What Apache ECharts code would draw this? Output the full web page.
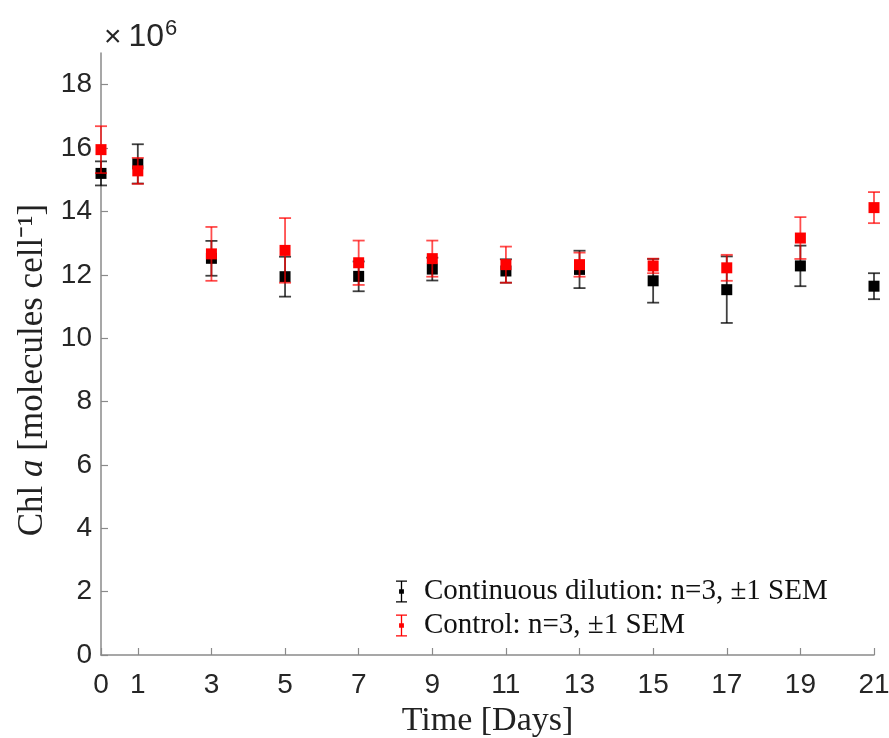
<!DOCTYPE html>
<html>
<head>
<meta charset="utf-8">
<script src="https://cdn.jsdelivr.net/npm/echarts@6/dist/echarts.min.js"></script>
<style>
  html, body { margin: 0; padding: 0; background: #fff; }
  #chart { width: 889px; height: 738px; }
</style>
</head>
<body>
<div id="chart"></div>
<script>
// sampling days
const days = [0, 1, 3, 5, 7, 9, 11, 13, 15, 17, 19, 21];
// Chl a per cell, x10^6
const dilutionMean = [15.2, 15.5, 12.52, 11.94, 11.95, 12.18, 12.12, 12.17, 11.81, 11.53, 12.28, 11.64];
const dilutionSem  = [0.38, 0.62, 0.55, 0.63, 0.47, 0.36, 0.37, 0.59, 0.69, 1.05, 0.64, 0.41];
const controlMean  = [15.95, 15.28, 12.66, 12.77, 12.38, 12.51, 12.32, 12.32, 12.28, 12.22, 13.16, 14.12];
const controlSem   = [0.74, 0.41, 0.85, 1.02, 0.7, 0.57, 0.57, 0.38, 0.23, 0.41, 0.66, 0.49];

const xTicks = [0, 1, 3, 5, 7, 9, 11, 13, 15, 17, 19, 21];
const yTicks = [0, 2, 4, 6, 8, 10, 12, 14, 16, 18];

const dilutionName = 'Continuous dilution: n=3, \u00b11 SEM';
const controlName = 'Control: n=3, \u00b11 SEM';

function points(mean) {
    return days.map((d, i) => [d, mean[i]]);
}
function bars(mean, sem) {
    return days.map((d, i) => [d, mean[i] - sem[i], mean[i] + sem[i]]);
}

function errorBar(color) {
    return function (params, api) {
        const lo = api.coord([api.value(0), api.value(1)]);
        const hi = api.coord([api.value(0), api.value(2)]);
        const w = 6;
        const style = { stroke: color, lineWidth: 1.8 };
        return {
            type: 'group',
            children: [
                { type: 'line', shape: { x1: lo[0], y1: lo[1], x2: hi[0], y2: hi[1] }, style: style },
                { type: 'line', shape: { x1: lo[0] - w, y1: lo[1], x2: lo[0] + w, y2: lo[1] }, style: style },
                { type: 'line', shape: { x1: hi[0] - w, y1: hi[1], x2: hi[0] + w, y2: hi[1] }, style: style }
            ]
        };
    };
}

const axisGray = '#8a8a8a';
const legendIcon = 'path://M0,0h10v1.2H0z M4.4,1h1.2v18h-1.2z M0,18.8h10v1.2H0z M2.8,8h4.4v4H2.8z';

const chart = echarts.init(document.getElementById('chart'));
chart.setOption({
    animation: false,
    backgroundColor: '#fff',
    grid: { left: 101, right: 15, top: 53, bottom: 83, containLabel: false, outerBoundsMode: 'none' },
    xAxis: {
        type: 'value',
        min: 0,
        max: 21,
        name: 'Time [Days]',
        nameLocation: 'middle',
        nameGap: 44,
        nameTextStyle: { fontFamily: 'Liberation Serif', fontSize: 34, color: '#222' },
        axisLine: { show: true, lineStyle: { color: axisGray, width: 1.5 } },
        axisTick: { show: true, inside: true, length: 7, customValues: xTicks, lineStyle: { color: axisGray, width: 1.2 } },
        axisLabel: { customValues: xTicks, margin: 16, fontFamily: 'Liberation Sans', fontSize: 28, color: '#262626' },
        splitLine: { show: false }
    },
    yAxis: {
        type: 'value',
        min: 0,
        max: 19,
        name: '{r|Chl }{i|a}{r| [molecules cell\u207b\u00b9]}',
        nameLocation: 'middle',
        nameRotate: 90,
        nameGap: 51,
        nameTextStyle: {
            color: '#222',
            padding: [0, 32, 0, 0],
            rich: {
                r: { fontFamily: 'Liberation Serif', fontSize: 35, color: '#222' },
                i: { fontFamily: 'Liberation Serif', fontStyle: 'italic', fontSize: 35, color: '#222' }
            }
        },
        axisLine: { show: true, lineStyle: { color: axisGray, width: 1.5 } },
        axisTick: { show: true, inside: true, length: 7, customValues: yTicks, lineStyle: { color: axisGray, width: 1.2 } },
        axisLabel: { customValues: yTicks, margin: 9, fontFamily: 'Liberation Sans', fontSize: 28, color: '#262626' },
        splitLine: { show: false }
    },
    legend: {
        orient: 'vertical',
        left: 391,
        top: 572,
        itemWidth: 11,
        itemHeight: 22,
        itemGap: 5,
        icon: legendIcon,
        data: [dilutionName, controlName],
        textStyle: { fontFamily: 'Liberation Serif', fontSize: 29, color: '#111', padding: [0, 0, 0, 12] }
    },
    graphic: [{
        type: 'text',
        left: 104,
        top: 18,
        style: {
            text: '{a|\u00d7}{c|10}{b|6}',
            rich: {
                a: { fontFamily: 'Liberation Sans', fontSize: 30, fill: '#262626', padding: [0, 7, 0, 0] },
                c: { fontFamily: 'Liberation Sans', fontSize: 32, fill: '#262626' },
                b: { fontFamily: 'Liberation Sans', fontSize: 22, fill: '#262626', padding: [0, 0, 17, 1] }
            }
        }
    }],
    series: [
        {
            type: 'custom',
            name: 'dilution err',
            renderItem: errorBar('rgba(0,0,0,0.75)'),
            data: bars(dilutionMean, dilutionSem),
            encode: { x: 0, y: [1, 2] },
            z: 2
        },
        {
            type: 'scatter',
            name: dilutionName,
            symbol: 'rect',
            symbolSize: 11,
            itemStyle: { color: '#000', opacity: 1 },
            data: points(dilutionMean),
            z: 3
        },
        {
            type: 'custom',
            name: 'control err',
            renderItem: errorBar('rgba(255,0,0,0.7)'),
            data: bars(controlMean, controlSem),
            encode: { x: 0, y: [1, 2] },
            z: 4
        },
        {
            type: 'scatter',
            name: controlName,
            symbol: 'rect',
            symbolSize: 11,
            itemStyle: { color: '#ff0000', opacity: 1 },
            data: points(controlMean),
            z: 5
        }
    ]
});
</script>
</body>
</html>
